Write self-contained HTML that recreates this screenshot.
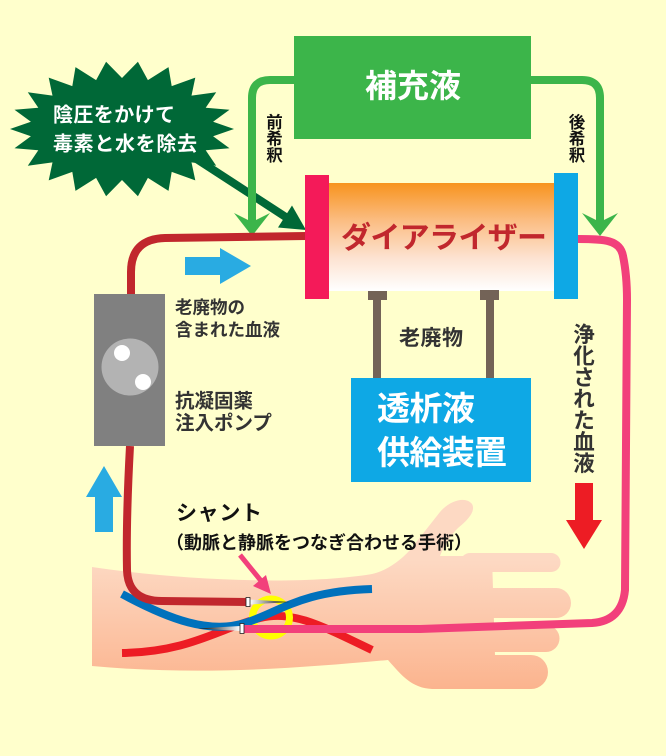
<!DOCTYPE html>
<html><head><meta charset="utf-8">
<style>
html,body{margin:0;padding:0;background:#ffffcc;}
svg{display:block;}
text{font-family:"Liberation Sans","Noto Sans CJK JP",sans-serif;font-weight:bold;}
</style></head>
<body>
<svg width="666" height="756" viewBox="0 0 666 756" xmlns="http://www.w3.org/2000/svg">
<defs>
<linearGradient id="dial" x1="0" y1="0" x2="0" y2="1">
<stop offset="0" stop-color="#f7931e"/>
<stop offset="0.35" stop-color="#fbbd83"/>
<stop offset="0.7" stop-color="#fde3d2"/>
<stop offset="1" stop-color="#ffffff"/>
</linearGradient>
<linearGradient id="skin" gradientUnits="userSpaceOnUse" x1="0" y1="560" x2="0" y2="692">
<stop offset="0" stop-color="#fdd9c3"/>
<stop offset="1" stop-color="#fbb38d"/>
</linearGradient>
<linearGradient id="ndl1" x1="0" y1="0" x2="1" y2="0">
<stop offset="0" stop-color="#ffffff"/>
<stop offset="1" stop-color="#000000"/>
</linearGradient>
<linearGradient id="ndl2" x1="1" y1="0" x2="0" y2="0">
<stop offset="0" stop-color="#ffffff"/>
<stop offset="1" stop-color="#000000"/>
</linearGradient>
</defs>
<rect width="666" height="756" fill="#ffffcc"/>

<!-- Arm / hand -->
<g fill="url(#skin)">
<path d="M92,567 C180,580 300,586 372,574 C385,571 398,563 410,550 L440,512 C450,500 466,496 472,504 C476,511 468,520 458,528 C450,536 444,545 440,556 L492,556 L496,689 L432,689 C412,688 402,676 388,660 C300,668 200,676 92,666 Z"/>
</g>
<g stroke="url(#skin)" stroke-linecap="round" fill="none">
<line x1="470" y1="562.5" x2="551" y2="562.5" stroke-width="19"/>
<line x1="480" y1="603" x2="556" y2="603" stroke-width="30"/>
<line x1="480" y1="638.5" x2="546" y2="638.5" stroke-width="27"/>
<line x1="480" y1="672" x2="531" y2="672" stroke-width="34"/>
</g>

<!-- artery -->
<path d="M122,653 C190,652 220,628 260,618 C292,610 320,625 372,650" fill="none" stroke="#ed1c24" stroke-width="8"/>
<!-- yellow ring -->
<circle cx="271" cy="617.5" r="18.5" fill="none" stroke="#ffff00" stroke-width="7"/>
<!-- vein -->
<path d="M122,594 C170,620 210,634 245,623 C280,612 300,591 372,589" fill="none" stroke="#0071bc" stroke-width="8"/>

<!-- starburst -->
<polygon fill="#006837" points="234,129 213.1,121.7 229.5,109.8 205.7,107.8 216.2,92.2 191.5,95.6 195.3,77.6 171.7,86.1 168.5,67.1 147.9,80.1 137.9,61.7 122,78 106.1,61.7 96.1,80.1 75.5,67.1 72.3,86.1 48.7,77.6 52.5,95.6 27.8,92.2 38.3,107.8 14.5,109.8 30.9,121.7 10,129 30.9,136.3 14.5,148.2 38.3,150.2 27.8,165.8 52.5,162.4 48.7,180.4 72.3,171.9 75.5,190.9 96.1,177.9 106.1,196.3 122,180 137.9,196.3 147.9,177.9 168.5,190.9 171.7,171.9 195.3,180.4 191.5,162.4 216.2,165.8 205.7,150.2 229.5,148.2 213.1,136.3"/>
<text x="53" y="121.5" font-size="20" fill="#ffffff" textLength="122">陰圧をかけて</text>
<text x="53" y="150.5" font-size="20" fill="#ffffff" textLength="144">毒素と水を除去</text>
<!-- dark green arrow -->
<line x1="195" y1="158" x2="288" y2="218.5" stroke="#006837" stroke-width="8"/>
<polygon fill="#006837" points="306,230 278,227.5 292,205.5"/>

<!-- green box -->
<rect x="294" y="36" width="237" height="103" fill="#3cb54a"/>
<text x="413" y="97" font-size="32" fill="#ffffff" text-anchor="middle" textLength="96">補充液</text>
<!-- green pipes -->
<path d="M294,80 L270,80 Q252,80 252,98 L252,222" fill="none" stroke="#3cb54a" stroke-width="8"/>
<polygon fill="#3cb54a" points="234,213 252,222 270,213 252,236"/>
<path d="M531,80 L582,80 Q600,80 600,98 L600,222" fill="none" stroke="#3cb54a" stroke-width="8"/>
<polygon fill="#3cb54a" points="582,213 600,222 618,213 600,236"/>
<g font-size="16.5" fill="#111" text-anchor="middle">
<text x="274.5" y="128">前</text>
<text x="274.5" y="144.5">希</text>
<text x="274.5" y="161">釈</text>
<text x="577" y="128">後</text>
<text x="577" y="144.5">希</text>
<text x="577" y="161">釈</text>
</g>

<!-- dirty blood red line -->
<path d="M306,236 L165,238 Q131,239 131,272 L131,296" fill="none" stroke="#c1272d" stroke-width="8"/>
<path d="M130,446 Q126,520 127,570 Q128,601 162,601 L247,602" fill="none" stroke="#c1272d" stroke-width="8"/>

<!-- dialyzer -->
<rect x="329" y="183" width="226" height="108" fill="url(#dial)"/>
<rect x="305" y="175" width="24" height="124" fill="#f41a59"/>
<rect x="554" y="173" width="24" height="126" fill="#0ea8e5"/>
<text x="444" y="248" font-size="30" fill="#c1272d" text-anchor="middle" textLength="206">ダイアライザー</text>

<!-- brown T pipes -->
<g fill="#736357">
<rect x="368" y="291" width="19" height="9"/>
<rect x="373" y="299" width="8" height="80"/>
<rect x="480" y="290" width="19" height="10"/>
<rect x="486" y="299" width="8" height="80"/>
</g>
<text x="431" y="345" font-size="21" fill="#333" text-anchor="middle" textLength="64">老廃物</text>

<!-- dialysate supply -->
<rect x="351" y="378" width="180" height="104" fill="#0ea8e5"/>
<text x="377" y="420" font-size="33" fill="#ffffff" textLength="98">透析液</text>
<text x="377" y="464" font-size="33" fill="#ffffff" textLength="130">供給装置</text>

<!-- pink return line -->
<path d="M578,239 C605,239 620,240 623,256 Q627,275 627,300 L625,590 Q622,621 592,623 L420,629 L244,629" fill="none" stroke="#f2407b" stroke-width="8"/>

<!-- purified blood text -->
<g font-size="21.5" fill="#333" text-anchor="middle">
<text x="584" y="342">浄</text>
<text x="584" y="363.5">化</text>
<text x="584" y="385">さ</text>
<text x="584" y="406.5">れ</text>
<text x="584" y="428">た</text>
<text x="584" y="449.5">血</text>
<text x="584" y="471">液</text>
</g>
<!-- red down arrow -->
<rect x="575" y="483" width="18" height="38" fill="#ed1c24"/>
<polygon fill="#ed1c24" points="566,520 602,520 584,549"/>

<!-- pump -->
<rect x="94" y="294" width="71" height="152" fill="#808080"/>
<circle cx="130" cy="367" r="28.5" fill="#b3b3b3"/>
<circle cx="122" cy="353" r="8" fill="#ffffff"/>
<circle cx="143" cy="382" r="8" fill="#ffffff"/>
<g fill="#333">
<text x="175" y="313.5" font-size="17.5">老廃物の</text>
<text x="175" y="336" font-size="17.5">含まれた血液</text>
<text x="175" y="407.5" font-size="19.5">抗凝固薬</text>
<text x="175" y="429.5" font-size="19.5">注入ポンプ</text>
</g>

<!-- blue arrows -->
<rect x="185" y="257" width="37" height="18" fill="#29abe2"/>
<polygon fill="#29abe2" points="220,248 251,266 220,284"/>
<rect x="95" y="496" width="18" height="36" fill="#29abe2"/>
<polygon fill="#29abe2" points="86,497 104,466 122,497"/>

<!-- shunt label -->
<text x="176" y="520" font-size="21" fill="#111" textLength="86">シャント</text>
<text x="166" y="549" font-size="18" fill="#111" textLength="306">（動脈と静脈をつなぎ合わせる手術）</text>
<line x1="240" y1="555" x2="262" y2="582" stroke="#f2407b" stroke-width="5"/>
<polygon fill="#f2407b" points="271,594 266,575 253,586"/>

<!-- needles -->
<polygon points="250,599.5 290,602 250,604.5" fill="url(#ndl1)"/>
<rect x="246" y="597.5" width="4" height="9" fill="#fff" stroke="#222" stroke-width="0.8"/>
<polygon points="240,626 198,628.5 240,631" fill="url(#ndl2)"/>
<rect x="240" y="623.5" width="4" height="10" fill="#fff" stroke="#222" stroke-width="0.8"/>
</svg>
</body></html>
